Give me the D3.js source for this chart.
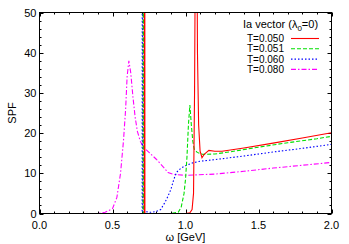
<!DOCTYPE html>
<html>
<head>
<meta charset="utf-8">
<script src="https://cdn.jsdelivr.net/npm/d3@7"></script>
<style>
  body { margin: 0; background: #fff; }
  svg text { font-family: "Liberation Sans", Arial, sans-serif; font-size: 11px; fill: #000; }
  svg .legend text { font-size: 10px; }
</style>
</head>
<body>
<div id="chart"></div>
<script>
const xTicks = [0.0, 0.5, 1.0, 1.5, 2.0];
const yTicks = [0, 10, 20, 30, 40, 50];

const seriesNames = ["T=0.050", "T=0.051", "T=0.060", "T=0.080"];

const t050 = [
  [0, 0], [0.70, 0], [0.718, 0], [0.720, 200], [0.722, 0], [1.0, 0], [1.03, 0.2],
  [1.045, 1], [1.055, 5], [1.062, 30], [1.068, 70], [1.072, 90], [1.078, 70],
  [1.082, 40], [1.09, 22], [1.10, 15.5], [1.113, 13.9], [1.13, 14.8], [1.16, 15.7],
  [1.2, 15.5], [1.25, 15.5], [1.4, 16.3], [1.6, 17.5], [1.8, 18.8], [2.0, 20.1]
];
const t051 = [
  [0, 0], [0.70, 0], [0.710, 0], [0.712, 200], [0.714, 0], [0.90, 0], [0.95, 0.3],
  [0.97, 1.5], [0.99, 5], [1.0, 8.5], [1.01, 14], [1.02, 22], [1.03, 27], [1.04, 22],
  [1.05, 18], [1.06, 16], [1.08, 15.2], [1.12, 14.7], [1.2, 14.8], [1.3, 15.3],
  [1.5, 16.5], [1.7, 17.6], [1.9, 18.6], [2.0, 19.2]
];
const t060 = [
  [0, 0], [0.69, 0], [0.703, 0], [0.705, 200], [0.707, 0], [0.72, 0.5], [0.76, 0.3],
  [0.80, 0.5], [0.83, 1], [0.86, 2.8], [0.88, 4.3], [0.90, 6], [0.92, 8.5],
  [0.94, 10.3], [0.97, 11.3], [1.0, 11.9], [1.05, 12.6], [1.1, 13], [1.2, 13.4],
  [1.4, 14.3], [1.6, 15.3], [1.8, 16.2], [2.0, 17.2]
];
const t080 = [
  [0, 0], [0.40, 0], [0.45, 0.3], [0.50, 1.2], [0.53, 4], [0.555, 10], [0.575, 18],
  [0.59, 26], [0.60, 34], [0.612, 38], [0.625, 35], [0.64, 29], [0.655, 24],
  [0.67, 20.5], [0.69, 18], [0.71, 16.6], [0.75, 15.2], [0.80, 13.5], [0.85, 11.5],
  [0.88, 10.2], [0.92, 9.7], [1.0, 9.5], [1.2, 9.8], [1.4, 10.5], [1.6, 11.3],
  [1.8, 12], [2.0, 12.7]
];

const styles = [
  { color: "#ff0000", dash: null },
  { color: "#00e000", dash: "4,2" },
  { color: "#0000ff", dash: "1.5,2" },
  { color: "#ff00ff", dash: "5,2,1.5,2" }
];
const allSeries = [t050, t051, t060, t080];

const width = 349;
const height = 244;
const margin = { left: 39.5, right: 17.5, top: 12.5, bottom: 30.5 };

const svg = d3
  .select("#chart")
  .append("svg")
  .attr("width", width)
  .attr("height", height);

const x = d3.scaleLinear().domain([0, 2]).range([margin.left, width - margin.right]);
const y = d3.scaleLinear().domain([0, 50]).range([height - margin.bottom, margin.top]);

svg.append("clipPath").attr("id", "clip")
  .append("rect")
  .attr("x", x(0)).attr("y", y(50))
  .attr("width", x(2) - x(0)).attr("height", y(0) - y(50));

// ticks on all four sides, pointing inward
const minorX = d3.range(0, 2.0001, 0.1);
const minorY = d3.range(0, 50.001, 2);
const ticksG = svg.append("g").attr("stroke", "#000").attr("stroke-width", 1);

minorX.forEach((v) => {
  const major = xTicks.some((t) => Math.abs(t - v) < 1e-6);
  const len = major ? 4 : 2;
  const px = Math.round(x(v)) + 0.5;
  ticksG.append("line").attr("x1", px).attr("x2", px).attr("y1", y(0)).attr("y2", y(0) - len);
  ticksG.append("line").attr("x1", px).attr("x2", px).attr("y1", y(50)).attr("y2", y(50) + len);
});
minorY.forEach((v) => {
  const major = yTicks.includes(v);
  const len = major ? 4 : 2;
  const py = Math.round(y(v)) + 0.5;
  ticksG.append("line").attr("y1", py).attr("y2", py).attr("x1", x(0)).attr("x2", x(0) + len);
  ticksG.append("line").attr("y1", py).attr("y2", py).attr("x1", x(2)).attr("x2", x(2) - len);
});

// curves
const line = d3.line().x((d) => x(d[0])).y((d) => y(d[1]));
const curves = svg.append("g").attr("clip-path", "url(#clip)");
allSeries.slice().reverse().forEach((s, i) => {
  const st = styles[allSeries.length - 1 - i];
  curves.append("path")
    .datum(s)
    .attr("d", line)
    .attr("fill", "none")
    .attr("stroke", st.color)
    .attr("stroke-width", 1.1)
    .attr("stroke-dasharray", st.dash);
});

// frame
svg.append("rect")
  .attr("x", x(0)).attr("y", y(50))
  .attr("width", x(2) - x(0)).attr("height", y(0) - y(50))
  .attr("fill", "none").attr("stroke", "#000").attr("stroke-width", 1);

// tick labels
svg.selectAll(".xlab")
  .data(xTicks)
  .enter()
  .append("text")
  .attr("x", (d) => x(d))
  .attr("y", y(0) + 15)
  .attr("text-anchor", "middle")
  .text((d) => d.toFixed(1));

svg.selectAll(".ylab")
  .data(yTicks)
  .enter()
  .append("text")
  .attr("x", x(0) - 3)
  .attr("y", (d) => y(d) + 4)
  .attr("text-anchor", "end")
  .text((d) => d);

svg.append("text")
  .attr("x", (x(0) + x(2)) / 2)
  .attr("y", 241)
  .attr("text-anchor", "middle")
  .text("ω [GeV]");

svg.append("text")
  .attr("transform", `translate(16,${(y(0) + y(50)) / 2}) rotate(-90)`)
  .attr("text-anchor", "middle")
  .text("SPF");

// legend
const legend = svg.append("g").attr("class", "legend");
const title = legend.append("text").attr("x", 243).attr("y", 28).style("font-size", "11px");
title.append("tspan").text("Ia vector (λ");
title.append("tspan").attr("dy", 3).attr("font-size", "8px").text("0");
title.append("tspan").attr("dy", -3).text("=0)");

seriesNames.forEach((name, i) => {
  const yy = 38.5 + i * 10.3;
  legend.append("text")
    .attr("x", 284)
    .attr("y", yy + 3.6)
    .attr("text-anchor", "end")
    .text(name);
  legend.append("line")
    .attr("x1", 291).attr("x2", 319)
    .attr("y1", yy).attr("y2", yy)
    .attr("stroke", styles[i].color)
    .attr("stroke-width", 1.1)
    .attr("stroke-dasharray", styles[i].dash);
});
</script>
</body>
</html>
